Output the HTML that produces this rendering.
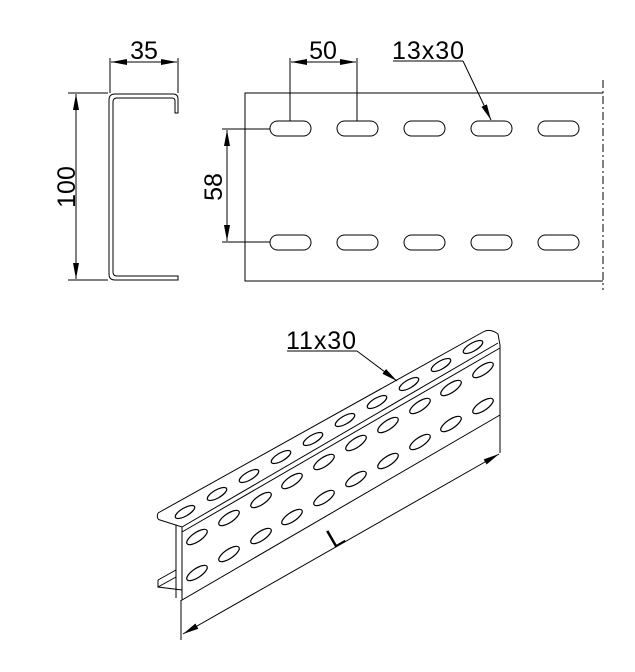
<!DOCTYPE html>
<html><head><meta charset="utf-8"><style>body{margin:0;background:#fff}svg{display:block}text{font-family:"Liberation Sans",Arial,sans-serif;fill:#000}</style></head><body>
<svg width="635" height="672" viewBox="0 0 635 672" xmlns="http://www.w3.org/2000/svg">
<defs><marker id="a" viewBox="0 0 16 6" refX="16" refY="3" markerWidth="16" markerHeight="6" markerUnits="userSpaceOnUse" orient="auto-start-reverse"><path d="M0,0L16,3L0,6z" fill="#000"/></marker></defs>
<g fill="none" stroke="#000" stroke-width="1">
<path d="M178,113 V99 Q178,94 173,94 H115 Q109,94 109,100 V274 Q109,280 115,280 H178 V276 H117 Q113,276 113,272 V102 Q113,98 117,98 H172 Q175,98 175,101 V113 Z"/>
<line x1="110" y1="58" x2="110" y2="93"/><line x1="178" y1="58" x2="178" y2="93"/>
<line x1="111" y1="62" x2="177" y2="62" marker-start="url(#a)" marker-end="url(#a)"/>
<line x1="68" y1="93" x2="108" y2="93"/><line x1="68" y1="280" x2="108" y2="280"/>
<line x1="76" y1="94" x2="76" y2="279" marker-start="url(#a)" marker-end="url(#a)"/>
<path d="M603,93 H245 V281 H603"/>
<line x1="603" y1="80" x2="603" y2="290" stroke-dasharray="8,3,2,3"/>
<g>
<rect x="270" y="121" width="41" height="15" rx="7.5"/><rect x="337" y="121" width="41" height="15" rx="7.5"/><rect x="404" y="121" width="41" height="15" rx="7.5"/><rect x="471" y="121" width="41" height="15" rx="7.5"/><rect x="538" y="121" width="41" height="15" rx="7.5"/>
<rect x="270" y="235" width="41" height="15" rx="7.5"/><rect x="337" y="235" width="41" height="15" rx="7.5"/><rect x="404" y="235" width="41" height="15" rx="7.5"/><rect x="471" y="235" width="41" height="15" rx="7.5"/><rect x="538" y="235" width="41" height="15" rx="7.5"/>
</g>
<line x1="290" y1="58" x2="290" y2="121"/><line x1="357" y1="58" x2="357" y2="121"/>
<line x1="291" y1="62" x2="356" y2="62" marker-start="url(#a)" marker-end="url(#a)"/>
<line x1="393" y1="61" x2="463" y2="61"/><line x1="463" y1="61" x2="491" y2="120" marker-end="url(#a)"/>
<line x1="222" y1="129" x2="270" y2="129"/><line x1="222" y1="242" x2="270" y2="242"/>
<line x1="227" y1="130" x2="227" y2="241" marker-start="url(#a)" marker-end="url(#a)"/>
<path d="M158,513 L483,332 Q490,328 498,334 L500,345 V453"/>
<path d="M158,513 Q156,519 160,520 L182,527 L498,343"/>
<path d="M182,527 V600 L500,415"/>
<path d="M182,532 L500,348"/>
<path d="M176,525 V598"/>
<path d="M158,580 L176,570 M158,580 V587 L182,590 M158,587 L176,577"/>
<line x1="181" y1="600" x2="181" y2="640"/>
<line x1="183" y1="634" x2="499" y2="454" marker-start="url(#a)" marker-end="url(#a)"/>
<line x1="287" y1="351" x2="357" y2="351"/><line x1="357" y1="351" x2="397" y2="381" marker-end="url(#a)"/>
</g>
<g fill="none" stroke="#000" stroke-width="1.2">
<ellipse cx="185" cy="512" rx="11" ry="4" transform="rotate(-30 185 512)"/>
<ellipse cx="217" cy="494" rx="11" ry="4" transform="rotate(-30 217 494)"/>
<ellipse cx="249" cy="476" rx="11" ry="4" transform="rotate(-30 249 476)"/>
<ellipse cx="281" cy="457" rx="11" ry="4" transform="rotate(-30 281 457)"/>
<ellipse cx="313" cy="439" rx="11" ry="4" transform="rotate(-30 313 439)"/>
<ellipse cx="345" cy="420" rx="11" ry="4" transform="rotate(-30 345 420)"/>
<ellipse cx="377" cy="402" rx="11" ry="4" transform="rotate(-30 377 402)"/>
<ellipse cx="409" cy="384" rx="11" ry="4" transform="rotate(-30 409 384)"/>
<ellipse cx="441" cy="365" rx="11" ry="4" transform="rotate(-30 441 365)"/>
<ellipse cx="473" cy="347" rx="11" ry="4" transform="rotate(-30 473 347)"/>
</g>
<g fill="none" stroke="#000" stroke-width="1.2">
<ellipse cx="197" cy="537" rx="12" ry="4.5" transform="rotate(-34 197 537)"/>
<ellipse cx="229" cy="518" rx="12" ry="4.5" transform="rotate(-34 229 518)"/>
<ellipse cx="261" cy="500" rx="12" ry="4.5" transform="rotate(-34 261 500)"/>
<ellipse cx="292" cy="481" rx="12" ry="4.5" transform="rotate(-34 292 481)"/>
<ellipse cx="324" cy="462" rx="12" ry="4.5" transform="rotate(-34 324 462)"/>
<ellipse cx="356" cy="443" rx="12" ry="4.5" transform="rotate(-34 356 443)"/>
<ellipse cx="388" cy="425" rx="12" ry="4.5" transform="rotate(-34 388 425)"/>
<ellipse cx="420" cy="406" rx="12" ry="4.5" transform="rotate(-34 420 406)"/>
<ellipse cx="451" cy="388" rx="12" ry="4.5" transform="rotate(-34 451 388)"/>
<ellipse cx="483" cy="370" rx="12" ry="4.5" transform="rotate(-34 483 370)"/>
<ellipse cx="197" cy="573" rx="12" ry="4.5" transform="rotate(-34 197 573)"/>
<ellipse cx="229" cy="554" rx="12" ry="4.5" transform="rotate(-34 229 554)"/>
<ellipse cx="261" cy="536" rx="12" ry="4.5" transform="rotate(-34 261 536)"/>
<ellipse cx="292" cy="517" rx="12" ry="4.5" transform="rotate(-34 292 517)"/>
<ellipse cx="324" cy="498" rx="12" ry="4.5" transform="rotate(-34 324 498)"/>
<ellipse cx="356" cy="479" rx="12" ry="4.5" transform="rotate(-34 356 479)"/>
<ellipse cx="388" cy="461" rx="12" ry="4.5" transform="rotate(-34 388 461)"/>
<ellipse cx="420" cy="442" rx="12" ry="4.5" transform="rotate(-34 420 442)"/>
<ellipse cx="451" cy="424" rx="12" ry="4.5" transform="rotate(-34 451 424)"/>
<ellipse cx="483" cy="406" rx="12" ry="4.5" transform="rotate(-34 483 406)"/>
</g>
<text x="144" y="59" font-size="25" text-anchor="middle">35</text>
<text x="323" y="59" font-size="25" text-anchor="middle">50</text>
<text x="392" y="59" font-size="25" textLength="72">13x30</text>
<text x="286" y="349" font-size="25" textLength="70">11x30</text>
<text transform="translate(75,187) rotate(-90)" font-size="25" text-anchor="middle">100</text>
<text transform="translate(222,187) rotate(-90)" font-size="25" text-anchor="middle">58</text>
<text transform="translate(340,545) rotate(-30)" font-size="27" text-anchor="middle">L</text>
</svg>
</body></html>
